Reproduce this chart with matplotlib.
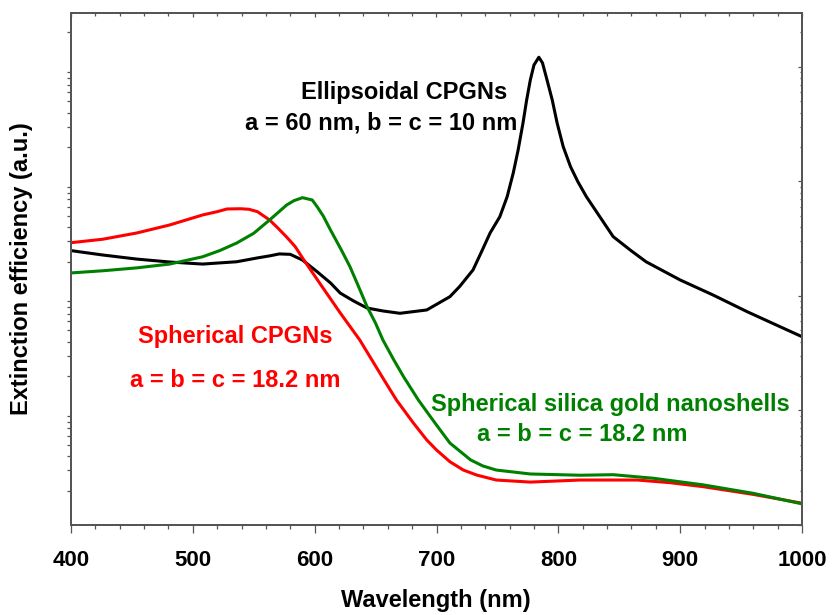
import numpy as np
import matplotlib
matplotlib.use('Agg')
import matplotlib.pyplot as plt
from matplotlib.ticker import LogLocator, NullFormatter, MultipleLocator

plt.rcParams['font.family'] = ['Liberation Sans', 'DejaVu Sans']
plt.rcParams['font.weight'] = 'bold'

# 椭球形 CPGNs (a = 60 nm, b = c = 10 nm)
wl_ellip = [400, 426, 454, 481, 508, 536, 553, 563, 571, 580, 590, 602, 613, 621,
            632, 643, 656, 670, 692, 711, 719, 730, 737, 744, 752, 758, 763, 767,
            771, 774, 777, 780, 784, 787, 790, 795, 799, 804, 810, 816, 823, 834,
            845, 859, 872, 900, 927, 955, 982, 1000]
ext_ellip = [249, 228, 210, 198, 190, 199, 215, 224, 233, 231, 206, 163, 130, 106,
             90.4, 78.5, 74, 70.6, 75.5, 98.6, 121, 169, 244, 355, 493, 737, 1186, 1884,
             3243, 5150, 7695, 10400, 12160, 10840, 8230, 5150, 3243, 2014, 1347, 996,
             737, 493, 330, 252, 199, 138, 102, 72.9, 53.9, 44.1]

# 球形 CPGNs (a = b = c = 18.2 nm)
wl_sph = [400, 426, 454, 481, 508, 520, 528, 539, 546, 553, 563, 570, 577, 584,
          590, 604, 621, 637, 656, 667, 681, 692, 700, 711, 722, 733, 749, 777,
          818, 865, 892, 919, 960, 1000]
ext_sph = [292, 313, 355, 417, 510, 545, 575, 578, 572, 545, 461, 390, 327, 270,
           215, 130, 71.1, 41.3, 19.2, 12.4, 7.78, 5.53, 4.52, 3.57, 3.02, 2.73, 2.47, 2.37,
           2.47, 2.47, 2.34, 2.16, 1.85, 1.55]

# 球形二氧化硅金纳米壳 (a = b = c = 18.2 nm)
wl_shell = [400, 426, 454, 481, 508, 522, 536, 550, 563, 577, 583, 590, 598, 602,
            607, 613, 622, 629, 636, 643, 650, 656, 665, 673, 685, 695, 703, 711,
            728, 738, 749, 777, 818, 845, 878, 919, 960, 1000]
ext_shell = [159, 166, 176, 190, 220, 249, 290, 353, 461, 623, 680, 722, 689, 603,
             500, 377, 251, 180, 121, 80.7, 57.8, 41.3, 27.6, 19.7, 12.4, 8.83, 6.76, 5.20,
             3.70, 3.28, 3.02, 2.79, 2.72, 2.75, 2.56, 2.24, 1.89, 1.53]

fig = plt.figure(figsize=(8.33, 6.15), dpi=100)
ax = fig.add_axes([71/833, 1-525/615, (802-71)/833, (525-13)/615])

ax.plot(wl_ellip, ext_ellip, color='black', lw=2.2)
ax.plot(wl_sph, ext_sph, color='#ff0000', lw=2.2)
ax.plot(wl_shell, ext_shell, color='#008000', lw=2.2)

ax.set_yscale('log')
ax.set_xlim(400, 1000)
ax.set_ylim(1, 2.96e4)

spine_c = '#555555'
for s in ax.spines.values():
    s.set_color(spine_c)
    s.set_linewidth(1.2)

ax.xaxis.set_major_locator(MultipleLocator(100))
ax.xaxis.set_minor_locator(MultipleLocator(20))
ax.yaxis.set_major_locator(LogLocator(base=10, numticks=10))
ax.yaxis.set_minor_locator(LogLocator(base=10, subs=np.arange(2, 10), numticks=20))
ax.yaxis.set_major_formatter(NullFormatter())
ax.yaxis.set_minor_formatter(NullFormatter())

ax.tick_params(which='both', direction='out', color=spine_c, width=0.9,
               top=False, right=False)
ax.tick_params(which='major', length=5.8)
ax.tick_params(which='minor', length=3)
ax.tick_params(axis='x', which='major', labelsize=16, pad=12)
for lab in ax.get_xticklabels():
    lab.set_fontweight('bold')

# 上边和右边的刻度朝内
axt = ax.twiny()
axt.set_xlim(ax.get_xlim())
axt.xaxis.set_major_locator(MultipleLocator(100))
axt.xaxis.set_minor_locator(MultipleLocator(20))
axt.tick_params(axis='x', which='both', direction='in', color=spine_c, width=0.9,
                labeltop=False)
axt.tick_params(axis='x', which='major', length=3)
axt.tick_params(axis='x', which='minor', length=2)
axt.set_yticks([])

axr = ax.twinx()
axr.set_yscale('log')
axr.set_ylim(ax.get_ylim())
axr.yaxis.set_major_locator(LogLocator(base=10, numticks=10))
axr.yaxis.set_minor_locator(LogLocator(base=10, subs=np.arange(2, 10), numticks=20))
axr.yaxis.set_major_formatter(NullFormatter())
axr.yaxis.set_minor_formatter(NullFormatter())
axr.tick_params(axis='y', which='both', direction='in', color=spine_c, width=0.9)
axr.tick_params(axis='y', which='major', length=3.2)
axr.tick_params(axis='y', which='minor', length=1.6)
for a in (axt, axr):
    for s in a.spines.values():
        s.set_color(spine_c)
        s.set_linewidth(1.2)

fig.text(436/833, 1-600/615, 'Wavelength (nm)', ha='center', va='center',
         fontsize=17, fontweight='bold')
fig.text(22/833, 1-269/615, 'Extinction efficiency (a.u.)', ha='center', va='center',
         rotation=90, fontsize=17, fontweight='bold')

fs = 17
ax.text(0.4555, 0.8438, 'Ellipsoidal CPGNs', transform=ax.transAxes, ha='center',
        va='center', fontsize=fs, fontweight='bold', color='black')
ax.text(0.4241, 0.7852, 'a = 60 nm, b = c = 10 nm', transform=ax.transAxes,
        ha='center', va='center', fontsize=fs, fontweight='bold', color='black')
ax.text(0.2244, 0.3672, 'Spherical CPGNs', transform=ax.transAxes, ha='center',
        va='center', fontsize=fs, fontweight='bold', color='#ff0000')
ax.text(0.2244, 0.2813, 'a = b = c = 18.2 nm', transform=ax.transAxes, ha='center',
        va='center', fontsize=fs, fontweight='bold', color='#ff0000')
ax.text(0.7373, 0.2344, 'Spherical silica gold nanoshells', transform=ax.transAxes,
        ha='center', va='center', fontsize=fs, fontweight='bold', color='#008000')
ax.text(0.6990, 0.1758, 'a = b = c = 18.2 nm', transform=ax.transAxes, ha='center',
        va='center', fontsize=fs, fontweight='bold', color='#008000')

fig.savefig('out.png', dpi=100)
